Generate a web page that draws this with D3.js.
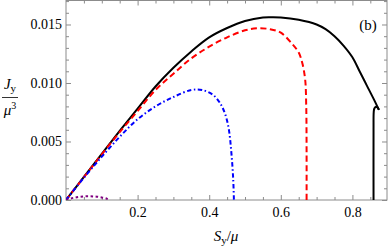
<!DOCTYPE html>
<html><head><meta charset="utf-8">
<script src="https://cdn.jsdelivr.net/npm/d3@7"></script>
<style>
html,body{margin:0;padding:0;background:#fff;}
svg{display:block;}
text{font-family:"Liberation Serif","Times New Roman",serif;fill:#000;}
</style></head>
<body><svg id="c" width="388" height="248"></svg>
<script>
// ---- data ----
const blackX = [0, 0.05, 0.10, 0.15, 0.20, 0.25, 0.30, 0.35, 0.40, 0.45, 0.50, 0.55, 0.575, 0.60, 0.65, 0.70, 0.725, 0.75, 0.775, 0.80, 0.82, 0.84, 0.86, 0.874];
const blackY = [0, 0.00198, 0.00395, 0.0059, 0.0078, 0.0097, 0.0113, 0.0127, 0.0139, 0.0147, 0.0153, 0.0156, 0.01562, 0.0156, 0.0154, 0.0150, 0.0146, 0.0140, 0.0132, 0.0122, 0.0110, 0.0098, 0.0086, 0.0077];
const hookX = [0.874, 0.870, 0.865, 0.861, 0.8595, 0.859, 0.859];
const hookY = [0.0077, 0.00792, 0.00795, 0.0078, 0.0075, 0.006, 0];
const redX = [0, 0.05, 0.10, 0.15, 0.20, 0.25, 0.30, 0.35, 0.40, 0.45, 0.50, 0.533, 0.57, 0.60, 0.63, 0.65, 0.66, 0.668, 0.671, 0.672, 0.672];
const redY = [0, 0.00195, 0.0039, 0.0058, 0.0076, 0.0094, 0.0108, 0.0121, 0.0131, 0.0139, 0.0145, 0.01467, 0.0146, 0.0143, 0.0134, 0.0126, 0.0117, 0.0103, 0.008, 0.004, 0];
const blueX = [0, 0.05, 0.10, 0.15, 0.20, 0.25, 0.30, 0.35, 0.38, 0.41, 0.43, 0.445, 0.455, 0.462, 0.467, 0.469];
const blueY = [0, 0.0019, 0.0037, 0.0054, 0.0069, 0.0080, 0.0088, 0.0094, 0.0094, 0.0090, 0.0083, 0.0073, 0.0060, 0.0040, 0.0018, 0];
const purpleX = [0, 0.02, 0.04, 0.06, 0.08, 0.10, 0.115, 0.121];
const purpleY = [0, 0.00018, 0.00028, 0.00032, 0.0003, 0.00022, 0.0001, 0];
const xMajor = [0.2, 0.4, 0.6, 0.8];
const xMinor = [0.05,0.1,0.15,0.25,0.3,0.35,0.45,0.5,0.55,0.65,0.7,0.75,0.85];
const yMajor = [0, 0.005, 0.010, 0.015];
const yMajorLabels = ["0.000", "0.005", "0.010", "0.015"];
const yMinor = [0.001,0.002,0.003,0.004,0.006,0.007,0.008,0.009,0.011,0.012,0.013,0.014,0.016,0.017];

// ---- layout ----
const L = 66, R = 387, T = 0.5, B = 200;
const svg = d3.select("#c");
const x = d3.scaleLinear().domain([0, 0.8966]).range([L, R]);
const y = d3.scaleLinear().domain([0, 0.01705]).range([B, T]);
const frameColor = "#8c8c8c";

svg.append("rect").attr("x", L).attr("y", T).attr("width", R - L).attr("height", B - T)
  .attr("fill", "none").attr("stroke", frameColor).attr("stroke-width", 1);

function axisG(axis, tx, ty) {
  const g = svg.append("g").attr("transform", `translate(${tx},${ty})`).call(axis);
  g.select(".domain").remove();
  g.selectAll(".tick line").attr("stroke", frameColor);
  g.selectAll("text").style("font-family", '"Liberation Serif",serif').style("font-size", "14px").attr("fill", "#000");
  return g;
}
// bottom
axisG(d3.axisBottom(x).tickValues(xMajor).tickSize(-5).tickPadding(7).tickFormat(d3.format(".1f")), 0, B);
axisG(d3.axisBottom(x).tickValues(xMinor).tickSize(-3).tickFormat(""), 0, B);
// top
axisG(d3.axisTop(x).tickValues(xMajor).tickSize(-5).tickFormat(""), 0, T);
axisG(d3.axisTop(x).tickValues(xMinor).tickSize(-3).tickFormat(""), 0, T);
// left
axisG(d3.axisLeft(y).tickValues(yMajor).tickSize(-5).tickPadding(4).tickFormat((d, i) => yMajorLabels[i]), L, 0);
axisG(d3.axisLeft(y).tickValues(yMinor).tickSize(-3).tickFormat(""), L, 0);
// right
axisG(d3.axisRight(y).tickValues(yMajor).tickSize(-5).tickFormat(""), R, 0);
axisG(d3.axisRight(y).tickValues(yMinor).tickSize(-3).tickFormat(""), R, 0);

// ---- curves ----
const line = d3.line().x(d => x(d[0])).y(d => y(d[1])).curve(d3.curveCatmullRom.alpha(0.5));
svg.append("clipPath").attr("id", "clip").append("rect")
  .attr("x", L).attr("y", T).attr("width", R - L).attr("height", B - T);
const series = [
  {xs: blackX, ys: blackY, color: "#000000", dash: null, w: 2},
  {xs: hookX, ys: hookY, color: "#000000", dash: null, w: 2},
  {xs: redX, ys: redY, color: "#ff0000", dash: "6,3.5", w: 2},
  {xs: blueX, ys: blueY, color: "#0000ff", dash: "4.5,2.5,1.5,2.5", w: 2},
  {xs: purpleX, ys: purpleY, color: "#800080", dash: "2.5,2.5", w: 2}
];
const gl = svg.append("g").attr("clip-path", "url(#clip)");
series.forEach(s => {
  gl.append("path").datum(s.xs.map((v, i) => [v, s.ys[i]]))
    .attr("d", line).attr("fill", "none").attr("stroke", s.color)
    .attr("stroke-width", s.w).attr("stroke-dasharray", s.dash)
    .attr("stroke-linejoin", "round");
});

// ---- labels ----
svg.append("text").attr("x", 368).attr("y", 30).attr("text-anchor", "middle")
  .style("font-size", "15px").text("(b)");

const xl = svg.append("text").attr("x", 226).attr("y", 241).attr("text-anchor", "middle").style("font-size", "15px");
xl.append("tspan").style("font-style", "italic").text("S");
xl.append("tspan").attr("dy", 3).style("font-size", "11px").text("y");
xl.append("tspan").attr("dy", -3).text("/");
xl.append("tspan").style("font-style", "italic").text("μ");

const yl1 = svg.append("text").attr("x", 10).attr("y", 89).attr("text-anchor", "middle").style("font-size", "15px");
yl1.append("tspan").style("font-style", "italic").text("J");
yl1.append("tspan").attr("dy", 3).style("font-size", "11px").text("y");
svg.append("line").attr("x1", 2).attr("x2", 18).attr("y1", 97.5).attr("y2", 97.5)
  .attr("stroke", "#000").attr("stroke-width", 0.8);
const yl2 = svg.append("text").attr("x", 10).attr("y", 115).attr("text-anchor", "middle").style("font-size", "15px");
yl2.append("tspan").style("font-style", "italic").text("μ");
yl2.append("tspan").attr("dy", -6).style("font-size", "10px").text("3");
</script>
</body></html>
